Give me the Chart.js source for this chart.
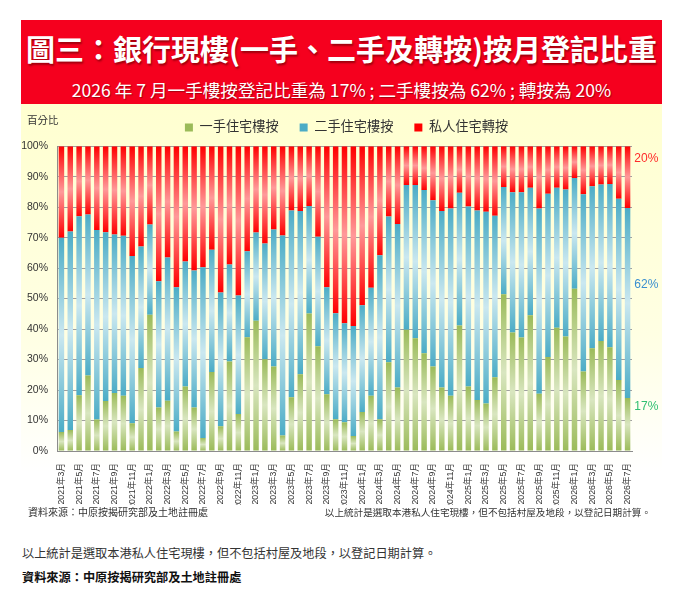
<!DOCTYPE html>
<html>
<head>
<meta charset="utf-8">
<script src="https://cdn.jsdelivr.net/npm/chart.js@4.4.1/dist/chart.umd.min.js"></script>
<style>
  html, body { margin: 0; padding: 0; background: #fff; }
  body { width: 676px; height: 608px; position: relative; overflow: hidden;
         font-family: "Noto Sans CJK TC", "Noto Sans", sans-serif; }
  .header { position: absolute; left: 21px; top: 20px; width: 641px; height: 84px; background: #f5001e; color: #fff; text-align: center; }
  .title { position: absolute; left: 0; right: 0; top: 9px; font-size: 29px; font-weight: bold; line-height: 38px;
           text-shadow: 1px 2px 2px rgba(90,0,0,0.55); }
  .subtitle { position: absolute; left: 0; right: 0; top: 59px; font-size: 17.6px; line-height: 22px;
              text-shadow: 1px 1px 1px rgba(90,0,0,0.5); }
  .panel { position: absolute; left: 21px; top: 104px; width: 641px; height: 419px;
           background: linear-gradient(#ffffd0 0%, #ffffe3 55%, #ffffff 88%); }
  .chart-box { position: absolute; left: 0; top: -4px; width: 641px; height: 405px; }
  .unit { position: absolute; left: 6px; top: 8px; font-size: 10.5px; color: #333; }
  .src-small { position: absolute; left: 7px; top: 400px; font-size: 10px; color: #333; }
  .note-small { position: absolute; right: 11px; top: 401px; font-size: 9.6px; color: #333; }
  .note { position: absolute; left: 22px; top: 544px; font-size: 12.2px; color: #333; }
  .src { position: absolute; left: 22px; top: 568px; font-size: 12.2px; font-weight: bold; color: #111; }
</style>
</head>
<body>
<div class="header">
  <div class="title">圖三：銀行現樓(一手、二手及轉按)按月登記比重</div>
  <div class="subtitle">2026 年 7 月一手樓按登記比重為 17% ; 二手樓按為 62% ; 轉按為 20%</div>
</div>
<div class="panel">
  <div class="chart-box"><canvas id="myChart"></canvas></div>
  <div class="unit">百分比</div>
  <div class="src-small">資料來源：中原按揭研究部及土地註冊處</div>
  <div class="note-small">以上統計是選取本港私人住宅現樓，但不包括村屋及地段，以登記日期計算。</div>
</div>
<div class="note">以上統計是選取本港私人住宅現樓，但不包括村屋及地段，以登記日期計算。</div>
<div class="src">資料來源：中原按揭研究部及土地註冊處</div>

<script>
const months = [
  "2021年3月","2021年4月","2021年5月","2021年6月","2021年7月","2021年8月","2021年9月","2021年10月","2021年11月","2021年12月",
  "2022年1月","2022年2月","2022年3月","2022年4月","2022年5月","2022年6月","2022年7月","2022年8月","2022年9月","2022年10月","2022年11月","2022年12月",
  "2023年1月","2023年2月","2023年3月","2023年4月","2023年5月","2023年6月","2023年7月","2023年8月","2023年9月","2023年10月","2023年11月","2023年12月",
  "2024年1月","2024年2月","2024年3月","2024年4月","2024年5月","2024年6月","2024年7月","2024年8月","2024年9月","2024年10月","2024年11月","2024年12月",
  "2025年1月","2025年2月","2025年3月","2025年4月","2025年5月","2025年6月","2025年7月","2025年8月","2025年9月","2025年10月","2025年11月","2025年12月",
  "2026年1月","2026年2月","2026年3月","2026年4月","2026年5月","2026年6月","2026年7月"
];

// 一手住宅樓按 (%)
const firstHand = [
  6.2, 6.9, 18.3, 24.8, 10.3, 16.4, 19.0, 18.1, 9.1, 27.2,
  44.7, 14.3, 16.5, 6.4, 21.2, 14.3, 4.3, 25.9, 8.1, 29.4, 12.1, 37.3,
  42.7, 30.1, 27.7, 5.1, 17.6, 25.2, 45.1, 34.4, 18.6, 10.4, 9.4, 4.9,
  12.8, 18.1, 10.4, 29.1, 20.8, 39.8, 37.0, 32.1, 27.7, 20.8, 18.1, 41.2,
  21.2, 16.7, 15.6, 24.2, 51.4, 38.9, 37.2, 44.5, 18.8, 30.8, 40.4, 37.6,
  53.2, 26.1, 33.7, 36.1, 34.0, 23.3, 17.4
];

// 二手住宅樓按 (%)
const secondHand = [
  63.8, 65.1, 58.7, 52.8, 62.2, 55.4, 52.0, 52.5, 54.9, 39.9,
  29.6, 41.4, 47.0, 47.3, 41.0, 44.9, 56.0, 40.1, 43.9, 31.8, 38.9, 28.2,
  29.0, 38.0, 45.0, 65.6, 61.3, 53.5, 35.3, 35.9, 35.1, 34.8, 32.5, 36.1,
  35.0, 35.5, 53.8, 47.8, 53.7, 47.5, 50.3, 53.5, 54.6, 57.9, 61.5, 43.5,
  59.0, 62.2, 62.9, 53.0, 35.2, 46.0, 47.7, 41.9, 60.8, 53.6, 46.0, 48.2,
  36.4, 58.1, 53.2, 51.3, 53.6, 59.5, 62.3
];

// 私人住宅轉按 (%)
const remortgage = [
  30.0, 28.0, 23.0, 22.4, 27.5, 28.2, 29.0, 29.4, 36.0, 32.9,
  25.7, 44.3, 36.5, 46.3, 37.8, 40.8, 39.7, 34.0, 48.0, 38.8, 49.0, 34.5,
  28.3, 31.9, 27.3, 29.3, 21.1, 21.3, 19.6, 29.7, 46.3, 54.8, 58.1, 59.0,
  52.2, 46.4, 35.8, 23.1, 25.5, 12.7, 12.7, 14.4, 17.7, 21.3, 20.4, 15.3,
  19.8, 21.1, 21.5, 22.8, 13.4, 15.1, 15.1, 13.6, 20.4, 15.6, 13.6, 14.2,
  10.4, 15.8, 13.1, 12.6, 12.4, 17.2, 20.3
];

const seriesNames = ["一手住宅樓按", "二手住宅樓按", "私人住宅轉按"];
const yTicks = [0, 10, 20, 30, 40, 50, 60, 70, 80, 90, 100];
const lastLabels = ["17%", "62%", "20%"];

const colors = [
  { dark: "#9bbb59", light: "#d9e6c0", text: "#2fbf71" },
  { dark: "#4bacc6", light: "#cbe8f0", text: "#3a8fd0" },
  { dark: "#ff0000", light: "#ff9a9a", text: "#ff2a2a" }
];

const fontFamily = '"Liberation Sans", "Noto Sans CJK TC", sans-serif';

// gradient dark-light-dark along each stacked segment
const segmentFill = (c) => (ctx) => {
  const chart = ctx.chart;
  if (!chart.chartArea || ctx.dataIndex === undefined || ctx.type !== "data") return c.dark;
  const y = chart.scales.y;
  let base = 0;
  for (let k = 0; k < ctx.datasetIndex; k++) base += chart.data.datasets[k].data[ctx.dataIndex];
  const top = base + chart.data.datasets[ctx.datasetIndex].data[ctx.dataIndex];
  const y0 = y.getPixelForValue(top);
  const y1 = y.getPixelForValue(base);
  if (!isFinite(y0) || !isFinite(y1) || y1 - y0 < 1) return c.dark;
  const g = chart.ctx.createLinearGradient(0, y0, 0, y1);
  g.addColorStop(0, c.dark);
  g.addColorStop(0.5, c.light);
  g.addColorStop(1, c.dark);
  return g;
};

// a bit more room under the legend, and nudge it right like the original
const legendTweak = {
  id: "legendTweak",
  afterInit(chart) {
    const legend = chart.legend;
    if (!legend) return;
    const fit = legend.fit;
    legend.fit = function () {
      fit.call(this);
      this.height += 2;
    };
    const draw = legend.draw;
    legend.draw = function () {
      this.ctx.save();
      this.ctx.translate(20, 0);
      draw.call(this);
      this.ctx.restore();
    };
  }
};

const endLabelPlugin = {
  id: "endLabels",
  afterDatasetsDraw(chart) {
    const ctx = chart.ctx;
    const last = months.length - 1;
    ctx.save();
    ctx.font = "12px " + fontFamily;
    ctx.textBaseline = "middle";
    ctx.textAlign = "left";
    chart.data.datasets.forEach((ds, i) => {
      const el = chart.getDatasetMeta(i).data[last];
      if (!el) return;
      const mid = (el.y + el.base) / 2;
      ctx.fillStyle = colors[i].text;
      ctx.fillText(lastLabels[i], el.x + el.width / 2 + 4, mid - 18);
    });
    ctx.restore();
  }
};

const datasets = [firstHand, secondHand, remortgage].map((data, i) => ({
  label: seriesNames[i],
  data: data,
  backgroundColor: segmentFill(colors[i]),
  borderWidth: 0,
  categoryPercentage: 1.0,
  barPercentage: 0.62
}));

const ctx = document.getElementById("myChart");
const myChart = new Chart(ctx, {
  type: "bar",
  data: { labels: months, datasets: datasets },
  options: {
    responsive: true,
    maintainAspectRatio: false,
    animation: false,
    layout: { padding: { top: 0, right: 30, left: 0, bottom: 0 } },
    plugins: {
      legend: {
        position: "top",
        labels: {
          font: { size: 13.2, family: fontFamily },
          color: "#333",
          boxWidth: 8,
          boxHeight: 8,
          padding: 21,
          generateLabels: (chart) => chart.data.datasets.map((ds, i) => ({
            text: ds.label,
            fillStyle: colors[i].dark,
            strokeStyle: colors[i].dark,
            lineWidth: 0,
            datasetIndex: i,
            fontColor: "#333"
          }))
        }
      },
      tooltip: { enabled: false }
    },
    scales: {
      x: {
        stacked: true,
        grid: { display: false },
        border: { display: true, color: "#8c8c8c" },
        ticks: {
          autoSkip: false,
          maxRotation: 90,
          minRotation: 90,
          padding: 4,
          color: "#333",
          font: { size: 8.7, family: fontFamily },
          callback: (val, idx) => (idx % 2 === 0 ? months[idx] : "")
        },
        afterFit: (axis) => { axis.height = 54; }
      },
      y: {
        stacked: true,
        min: 0,
        max: 100,
        afterBuildTicks: (axis) => { axis.ticks = yTicks.map(v => ({ value: v })); },
        grid: { color: "#a0a0a0", lineWidth: 1, drawTicks: false },
        border: { display: true, color: "#8c8c8c" },
        ticks: {
          padding: 9,
          color: "#333",
          font: { size: 10.5, family: fontFamily },
          callback: (v) => v + "%"
        },
        afterFit: (axis) => { axis.width = 36; }
      }
    }
  },
  plugins: [legendTweak, endLabelPlugin]
});
</script>
</body>
</html>
